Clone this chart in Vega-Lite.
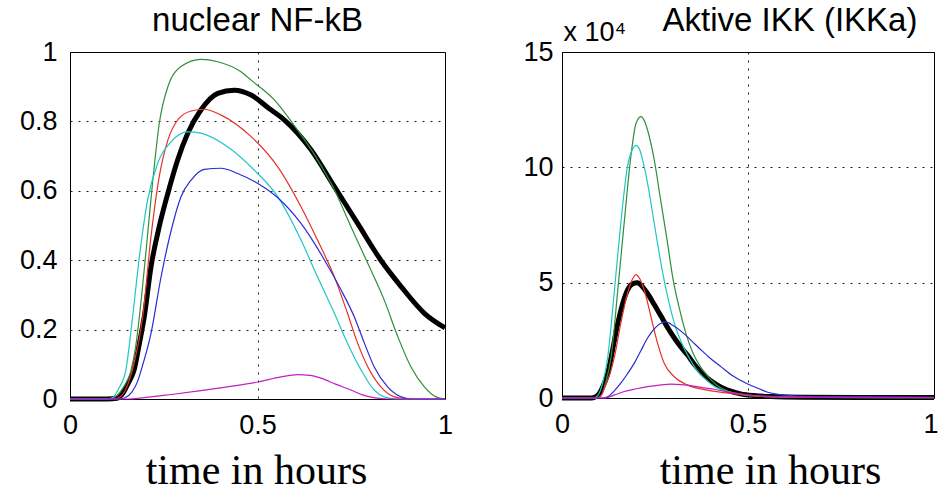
{
  "$schema": "https://vega.github.io/schema/vega-lite/v6.json",
  "background": "white",
  "padding": {"left": 18, "top": 4, "right": 0, "bottom": 0},
  "bounds": "flush",
  "spacing": 117,
  "config": {
    "view": {"stroke": "#000", "strokeWidth": 1},
    "axis": {
      "grid": true, "gridColor": "#000", "gridDash": [2, 6], "gridWidth": 1, "gridOpacity": 0.9,
      "domain": false, "ticks": false,
      "labelFont": "Liberation Sans", "labelFontSize": 27, "labelColor": "#000",
      "labelOverlap": false
    },
    "title": {"font": "Liberation Sans", "fontSize": 33, "fontWeight": "normal", "color": "#000", "baseline": "alphabetic"}
  },
  "datasets": {
    "nfkb": [
      {"series": "black", "t": 0, "v": 0}, {"series": "black", "t": 0.1, "v": 0}, {"series": "black", "t": 0.125, "v": 0.002},
      {"series": "black", "t": 0.14, "v": 0.015}, {"series": "black", "t": 0.155, "v": 0.045}, {"series": "black", "t": 0.171, "v": 0.084},
      {"series": "black", "t": 0.185, "v": 0.16}, {"series": "black", "t": 0.198, "v": 0.237}, {"series": "black", "t": 0.216, "v": 0.381},
      {"series": "black", "t": 0.238, "v": 0.497}, {"series": "black", "t": 0.261, "v": 0.593}, {"series": "black", "t": 0.287, "v": 0.689},
      {"series": "black", "t": 0.314, "v": 0.766}, {"series": "black", "t": 0.349, "v": 0.833}, {"series": "black", "t": 0.394, "v": 0.881},
      {"series": "black", "t": 0.438, "v": 0.89}, {"series": "black", "t": 0.483, "v": 0.876}, {"series": "black", "t": 0.53, "v": 0.838},
      {"series": "black", "t": 0.572, "v": 0.804}, {"series": "black", "t": 0.643, "v": 0.718}, {"series": "black", "t": 0.705, "v": 0.612},
      {"series": "black", "t": 0.767, "v": 0.506}, {"series": "black", "t": 0.829, "v": 0.4}, {"series": "black", "t": 0.883, "v": 0.324},
      {"series": "black", "t": 0.945, "v": 0.247}, {"series": "black", "t": 1, "v": 0.205},

      {"series": "green", "t": 0, "v": 0}, {"series": "green", "t": 0.1, "v": 0}, {"series": "green", "t": 0.118, "v": 0.005},
      {"series": "green", "t": 0.14, "v": 0.03}, {"series": "green", "t": 0.163, "v": 0.084}, {"series": "green", "t": 0.175, "v": 0.15},
      {"series": "green", "t": 0.185, "v": 0.237}, {"series": "green", "t": 0.203, "v": 0.429}, {"series": "green", "t": 0.22, "v": 0.621},
      {"series": "green", "t": 0.238, "v": 0.794}, {"series": "green", "t": 0.261, "v": 0.9}, {"series": "green", "t": 0.296, "v": 0.958},
      {"series": "green", "t": 0.349, "v": 0.979}, {"series": "green", "t": 0.394, "v": 0.972}, {"series": "green", "t": 0.456, "v": 0.943},
      {"series": "green", "t": 0.483, "v": 0.919}, {"series": "green", "t": 0.545, "v": 0.862}, {"series": "green", "t": 0.6, "v": 0.785},
      {"series": "green", "t": 0.66, "v": 0.69}, {"series": "green", "t": 0.705, "v": 0.603}, {"series": "green", "t": 0.749, "v": 0.497},
      {"series": "green", "t": 0.794, "v": 0.391}, {"series": "green", "t": 0.838, "v": 0.285}, {"series": "green", "t": 0.874, "v": 0.18},
      {"series": "green", "t": 0.909, "v": 0.093}, {"series": "green", "t": 0.945, "v": 0.035}, {"series": "green", "t": 0.976, "v": 0.006},
      {"series": "green", "t": 1, "v": 0},

      {"series": "red", "t": 0, "v": 0}, {"series": "red", "t": 0.11, "v": 0}, {"series": "red", "t": 0.127, "v": 0.003},
      {"series": "red", "t": 0.145, "v": 0.02}, {"series": "red", "t": 0.16, "v": 0.06}, {"series": "red", "t": 0.171, "v": 0.103},
      {"series": "red", "t": 0.194, "v": 0.237}, {"series": "red", "t": 0.216, "v": 0.468}, {"series": "red", "t": 0.238, "v": 0.641},
      {"series": "red", "t": 0.261, "v": 0.746}, {"series": "red", "t": 0.287, "v": 0.804}, {"series": "red", "t": 0.323, "v": 0.83},
      {"series": "red", "t": 0.358, "v": 0.835}, {"series": "red", "t": 0.403, "v": 0.818}, {"series": "red", "t": 0.483, "v": 0.756},
      {"series": "red", "t": 0.554, "v": 0.669}, {"series": "red", "t": 0.616, "v": 0.554}, {"series": "red", "t": 0.66, "v": 0.458},
      {"series": "red", "t": 0.705, "v": 0.352}, {"series": "red", "t": 0.74, "v": 0.247}, {"series": "red", "t": 0.767, "v": 0.161},
      {"series": "red", "t": 0.794, "v": 0.093}, {"series": "red", "t": 0.829, "v": 0.035}, {"series": "red", "t": 0.865, "v": 0.006},
      {"series": "red", "t": 0.9, "v": 0}, {"series": "red", "t": 1, "v": 0},

      {"series": "cyan", "t": 0, "v": 0}, {"series": "cyan", "t": 0.1, "v": 0}, {"series": "cyan", "t": 0.114, "v": 0.004},
      {"series": "cyan", "t": 0.13, "v": 0.03}, {"series": "cyan", "t": 0.149, "v": 0.084}, {"series": "cyan", "t": 0.167, "v": 0.237},
      {"series": "cyan", "t": 0.185, "v": 0.41}, {"series": "cyan", "t": 0.207, "v": 0.574}, {"series": "cyan", "t": 0.234, "v": 0.68},
      {"series": "cyan", "t": 0.27, "v": 0.742}, {"series": "cyan", "t": 0.314, "v": 0.77}, {"series": "cyan", "t": 0.349, "v": 0.766},
      {"series": "cyan", "t": 0.42, "v": 0.727}, {"series": "cyan", "t": 0.491, "v": 0.66}, {"series": "cyan", "t": 0.554, "v": 0.583},
      {"series": "cyan", "t": 0.616, "v": 0.458}, {"series": "cyan", "t": 0.66, "v": 0.352}, {"series": "cyan", "t": 0.705, "v": 0.247},
      {"series": "cyan", "t": 0.74, "v": 0.161}, {"series": "cyan", "t": 0.776, "v": 0.084}, {"series": "cyan", "t": 0.811, "v": 0.026},
      {"series": "cyan", "t": 0.838, "v": 0.006}, {"series": "cyan", "t": 0.87, "v": 0}, {"series": "cyan", "t": 1, "v": 0},

      {"series": "blue", "t": 0, "v": 0}, {"series": "blue", "t": 0.13, "v": 0}, {"series": "blue", "t": 0.145, "v": 0.003},
      {"series": "blue", "t": 0.165, "v": 0.02}, {"series": "blue", "t": 0.18, "v": 0.05}, {"series": "blue", "t": 0.19, "v": 0.084},
      {"series": "blue", "t": 0.216, "v": 0.189}, {"series": "blue", "t": 0.243, "v": 0.353}, {"series": "blue", "t": 0.27, "v": 0.487},
      {"series": "blue", "t": 0.296, "v": 0.583}, {"series": "blue", "t": 0.323, "v": 0.631}, {"series": "blue", "t": 0.358, "v": 0.662},
      {"series": "blue", "t": 0.403, "v": 0.665}, {"series": "blue", "t": 0.447, "v": 0.65}, {"series": "blue", "t": 0.501, "v": 0.621},
      {"series": "blue", "t": 0.554, "v": 0.58}, {"series": "blue", "t": 0.616, "v": 0.506}, {"series": "blue", "t": 0.679, "v": 0.4},
      {"series": "blue", "t": 0.723, "v": 0.314}, {"series": "blue", "t": 0.758, "v": 0.237}, {"series": "blue", "t": 0.785, "v": 0.161},
      {"series": "blue", "t": 0.811, "v": 0.093}, {"series": "blue", "t": 0.847, "v": 0.035}, {"series": "blue", "t": 0.883, "v": 0.006},
      {"series": "blue", "t": 0.91, "v": 0}, {"series": "blue", "t": 1, "v": 0},

      {"series": "magenta", "t": 0, "v": 0}, {"series": "magenta", "t": 0.15, "v": 0}, {"series": "magenta", "t": 0.198, "v": 0.004},
      {"series": "magenta", "t": 0.27, "v": 0.013}, {"series": "magenta", "t": 0.349, "v": 0.024}, {"series": "magenta", "t": 0.42, "v": 0.035},
      {"series": "magenta", "t": 0.501, "v": 0.049}, {"series": "magenta", "t": 0.563, "v": 0.064}, {"series": "magenta", "t": 0.607, "v": 0.07},
      {"series": "magenta", "t": 0.64, "v": 0.068}, {"series": "magenta", "t": 0.669, "v": 0.06}, {"series": "magenta", "t": 0.71, "v": 0.042},
      {"series": "magenta", "t": 0.749, "v": 0.026}, {"series": "magenta", "t": 0.78, "v": 0.012}, {"series": "magenta", "t": 0.81, "v": 0.004},
      {"series": "magenta", "t": 0.85, "v": 0}, {"series": "magenta", "t": 1, "v": 0}
    ],
    "ikk": [
      {"series": "black", "t": 0, "v": 0}, {"series": "black", "t": 0.08, "v": 0}, {"series": "black", "t": 0.095, "v": 1000},
      {"series": "black", "t": 0.11, "v": 5000}, {"series": "black", "t": 0.123, "v": 10700}, {"series": "black", "t": 0.135, "v": 20000},
      {"series": "black", "t": 0.15, "v": 32400}, {"series": "black", "t": 0.165, "v": 42000}, {"series": "black", "t": 0.176, "v": 46800},
      {"series": "black", "t": 0.19, "v": 49500}, {"series": "black", "t": 0.203, "v": 50000}, {"series": "black", "t": 0.215, "v": 48500},
      {"series": "black", "t": 0.23, "v": 45300}, {"series": "black", "t": 0.248, "v": 40500}, {"series": "black", "t": 0.266, "v": 35500},
      {"series": "black", "t": 0.284, "v": 30500}, {"series": "black", "t": 0.302, "v": 26000}, {"series": "black", "t": 0.32, "v": 22000},
      {"series": "black", "t": 0.338, "v": 18500}, {"series": "black", "t": 0.356, "v": 14500}, {"series": "black", "t": 0.374, "v": 11200},
      {"series": "black", "t": 0.392, "v": 8500}, {"series": "black", "t": 0.41, "v": 6400}, {"series": "black", "t": 0.445, "v": 3400},
      {"series": "black", "t": 0.48, "v": 1800}, {"series": "black", "t": 0.52, "v": 1000}, {"series": "black", "t": 0.56, "v": 600},
      {"series": "black", "t": 0.65, "v": 300}, {"series": "black", "t": 0.8, "v": 200}, {"series": "black", "t": 1, "v": 200},

      {"series": "green", "t": 0, "v": 0}, {"series": "green", "t": 0.09, "v": 0}, {"series": "green", "t": 0.105, "v": 1000},
      {"series": "green", "t": 0.118, "v": 7000}, {"series": "green", "t": 0.132, "v": 17900}, {"series": "green", "t": 0.15, "v": 46800},
      {"series": "green", "t": 0.167, "v": 75700}, {"series": "green", "t": 0.185, "v": 104600}, {"series": "green", "t": 0.199, "v": 119100},
      {"series": "green", "t": 0.212, "v": 122000}, {"series": "green", "t": 0.222, "v": 120000}, {"series": "green", "t": 0.23, "v": 116200},
      {"series": "green", "t": 0.248, "v": 103200}, {"series": "green", "t": 0.264, "v": 87000}, {"series": "green", "t": 0.282, "v": 69000},
      {"series": "green", "t": 0.298, "v": 52000}, {"series": "green", "t": 0.316, "v": 38500}, {"series": "green", "t": 0.334, "v": 27500},
      {"series": "green", "t": 0.352, "v": 19500}, {"series": "green", "t": 0.372, "v": 13600}, {"series": "green", "t": 0.392, "v": 9500},
      {"series": "green", "t": 0.41, "v": 6400}, {"series": "green", "t": 0.445, "v": 3000}, {"series": "green", "t": 0.48, "v": 1500},
      {"series": "green", "t": 0.52, "v": 800}, {"series": "green", "t": 0.6, "v": 400}, {"series": "green", "t": 0.8, "v": 200},
      {"series": "green", "t": 1, "v": 200},

      {"series": "cyan", "t": 0, "v": 0}, {"series": "cyan", "t": 0.085, "v": 0}, {"series": "cyan", "t": 0.096, "v": 1000},
      {"series": "cyan", "t": 0.11, "v": 7000}, {"series": "cyan", "t": 0.123, "v": 17900}, {"series": "cyan", "t": 0.141, "v": 46800},
      {"series": "cyan", "t": 0.158, "v": 75700}, {"series": "cyan", "t": 0.176, "v": 100300}, {"series": "cyan", "t": 0.19, "v": 108000},
      {"series": "cyan", "t": 0.199, "v": 109500}, {"series": "cyan", "t": 0.208, "v": 108000}, {"series": "cyan", "t": 0.217, "v": 103000},
      {"series": "cyan", "t": 0.23, "v": 93000}, {"series": "cyan", "t": 0.248, "v": 75700}, {"series": "cyan", "t": 0.266, "v": 58400},
      {"series": "cyan", "t": 0.284, "v": 43900}, {"series": "cyan", "t": 0.302, "v": 32400}, {"series": "cyan", "t": 0.32, "v": 24500},
      {"series": "cyan", "t": 0.338, "v": 18500}, {"series": "cyan", "t": 0.365, "v": 11500}, {"series": "cyan", "t": 0.392, "v": 7200},
      {"series": "cyan", "t": 0.41, "v": 5000}, {"series": "cyan", "t": 0.454, "v": 2500}, {"series": "cyan", "t": 0.5, "v": 1200},
      {"series": "cyan", "t": 0.55, "v": 600}, {"series": "cyan", "t": 0.65, "v": 300}, {"series": "cyan", "t": 1, "v": 200},

      {"series": "red", "t": 0, "v": 0}, {"series": "red", "t": 0.095, "v": 0}, {"series": "red", "t": 0.105, "v": 1000},
      {"series": "red", "t": 0.118, "v": 6000}, {"series": "red", "t": 0.13, "v": 11000}, {"series": "red", "t": 0.141, "v": 17900},
      {"series": "red", "t": 0.158, "v": 32400}, {"series": "red", "t": 0.176, "v": 45300}, {"series": "red", "t": 0.188, "v": 51000},
      {"series": "red", "t": 0.199, "v": 53500}, {"series": "red", "t": 0.208, "v": 52000}, {"series": "red", "t": 0.221, "v": 46800},
      {"series": "red", "t": 0.239, "v": 35300}, {"series": "red", "t": 0.257, "v": 23700}, {"series": "red", "t": 0.275, "v": 15000},
      {"series": "red", "t": 0.302, "v": 9200}, {"series": "red", "t": 0.338, "v": 5600}, {"series": "red", "t": 0.391, "v": 3400},
      {"series": "red", "t": 0.454, "v": 2000}, {"series": "red", "t": 0.5, "v": 1200}, {"series": "red", "t": 0.55, "v": 600},
      {"series": "red", "t": 0.65, "v": 300}, {"series": "red", "t": 1, "v": 200},

      {"series": "blue", "t": 0, "v": 0}, {"series": "blue", "t": 0.11, "v": 0}, {"series": "blue", "t": 0.123, "v": 500},
      {"series": "blue", "t": 0.14, "v": 3000}, {"series": "blue", "t": 0.158, "v": 6400}, {"series": "blue", "t": 0.176, "v": 10500},
      {"series": "blue", "t": 0.194, "v": 15000}, {"series": "blue", "t": 0.212, "v": 20500}, {"series": "blue", "t": 0.23, "v": 26000},
      {"series": "blue", "t": 0.248, "v": 30000}, {"series": "blue", "t": 0.266, "v": 32400}, {"series": "blue", "t": 0.28, "v": 33000},
      {"series": "blue", "t": 0.293, "v": 32000}, {"series": "blue", "t": 0.32, "v": 29000}, {"series": "blue", "t": 0.347, "v": 25000},
      {"series": "blue", "t": 0.374, "v": 20800}, {"series": "blue", "t": 0.4, "v": 17000}, {"series": "blue", "t": 0.427, "v": 13600},
      {"series": "blue", "t": 0.46, "v": 9500}, {"series": "blue", "t": 0.499, "v": 6100}, {"series": "blue", "t": 0.53, "v": 4000},
      {"series": "blue", "t": 0.553, "v": 2500}, {"series": "blue", "t": 0.585, "v": 1500}, {"series": "blue", "t": 0.616, "v": 1000},
      {"series": "blue", "t": 0.7, "v": 500}, {"series": "blue", "t": 1, "v": 300},

      {"series": "magenta", "t": 0, "v": 0}, {"series": "magenta", "t": 0.11, "v": 0}, {"series": "magenta", "t": 0.123, "v": 300},
      {"series": "magenta", "t": 0.145, "v": 1500}, {"series": "magenta", "t": 0.167, "v": 2800}, {"series": "magenta", "t": 0.2, "v": 4000},
      {"series": "magenta", "t": 0.23, "v": 4900}, {"series": "magenta", "t": 0.262, "v": 5600}, {"series": "magenta", "t": 0.293, "v": 6000},
      {"series": "magenta", "t": 0.32, "v": 5800}, {"series": "magenta", "t": 0.347, "v": 5400}, {"series": "magenta", "t": 0.374, "v": 4600},
      {"series": "magenta", "t": 0.41, "v": 3800}, {"series": "magenta", "t": 0.454, "v": 2400}, {"series": "magenta", "t": 0.5, "v": 1400},
      {"series": "magenta", "t": 0.55, "v": 800}, {"series": "magenta", "t": 0.6, "v": 500}, {"series": "magenta", "t": 0.7, "v": 400},
      {"series": "magenta", "t": 1, "v": 300}
    ]
  },
  "hconcat": [
    {
      "width": 375,
      "height": 347,
      "title": {"text": "nuclear NF-kB", "offset": 0},
      "data": {"name": "nfkb"},
      "encoding": {
        "x": {"field": "t", "type": "quantitative", "scale": {"domain": [0, 1], "nice": false, "zero": false},
          "axis": {"values": [0, 0.5, 1], "format": "~g", "labelPadding": 13, "labelFlush": false,
            "title": "time in hours", "titleFont": "Liberation Serif", "titleFontSize": 42, "titleFontWeight": "normal",
            "titleColor": "#000", "titleBaseline": "alphabetic", "titleX": 186, "titleY": 84}},
        "y": {"field": "v", "type": "quantitative", "scale": {"domain": [0, 1], "nice": false},
          "axis": {"values": [0, 0.2, 0.4, 0.6, 0.8, 1], "format": "~g", "labelPadding": 13, "title": null}}
      },
      "layer": [
        {"transform": [{"filter": "datum.series == 'black'"}],
          "mark": {"type": "line", "color": "#000", "strokeWidth": 5, "interpolate": "monotone"}},
        {"transform": [{"filter": "datum.series != 'black'"}],
          "mark": {"type": "line", "strokeWidth": 1.2, "interpolate": "monotone"},
          "encoding": {"color": {"field": "series", "type": "nominal", "legend": null,
            "scale": {"domain": ["green", "red", "cyan", "blue", "magenta"], "range": ["#2f8f3a", "#e53027", "#1fc6c6", "#2a2ad6", "#c21fc2"]}}}}
      ]
    },
    {
      "width": 372,
      "height": 346,
      "title": {"text": "Aktive IKK (IKKa)", "dx": 42, "offset": -20},
      "data": {"name": "ikk"},
      "encoding": {
        "x": {"field": "t", "type": "quantitative", "scale": {"domain": [0, 1], "nice": false, "zero": false},
          "axis": {"values": [0, 0.5, 1], "format": "~g", "labelPadding": 13, "labelFlush": false,
            "labelAlign": {"condition": {"test": "datum.value == 1", "value": "right"}, "value": "center"},
            "labelOffset": {"condition": {"test": "datum.value == 1", "value": 4}, "value": 0},
            "title": "time in hours", "titleFont": "Liberation Serif", "titleFontSize": 42, "titleFontWeight": "normal",
            "titleColor": "#000", "titleBaseline": "alphabetic", "titleX": 208, "titleY": 85}},
        "y": {"field": "v", "type": "quantitative", "scale": {"domain": [0, 150000], "nice": false},
          "axis": {"values": [0, 50000, 100000, 150000], "labelExpr": "format(datum.value / 10000, 'd')", "labelPadding": 9,
            "title": "x 10⁴", "titleAngle": 0, "titleAlign": "left", "titleBaseline": "alphabetic", "titleX": 1, "titleY": -12,
            "titleFont": "Liberation Sans", "titleFontSize": 27, "titleFontWeight": "normal", "titleColor": "#000"}}
      },
      "layer": [
        {"transform": [{"filter": "datum.series == 'black'"}],
          "mark": {"type": "line", "color": "#000", "strokeWidth": 5, "interpolate": "monotone"}},
        {"transform": [{"filter": "datum.series != 'black'"}],
          "mark": {"type": "line", "strokeWidth": 1.2, "interpolate": "monotone"},
          "encoding": {"color": {"field": "series", "type": "nominal", "legend": null,
            "scale": {"domain": ["green", "red", "cyan", "blue", "magenta"], "range": ["#2f8f3a", "#e53027", "#1fc6c6", "#2a2ad6", "#c21fc2"]}}}}
      ]
    }
  ]
}
